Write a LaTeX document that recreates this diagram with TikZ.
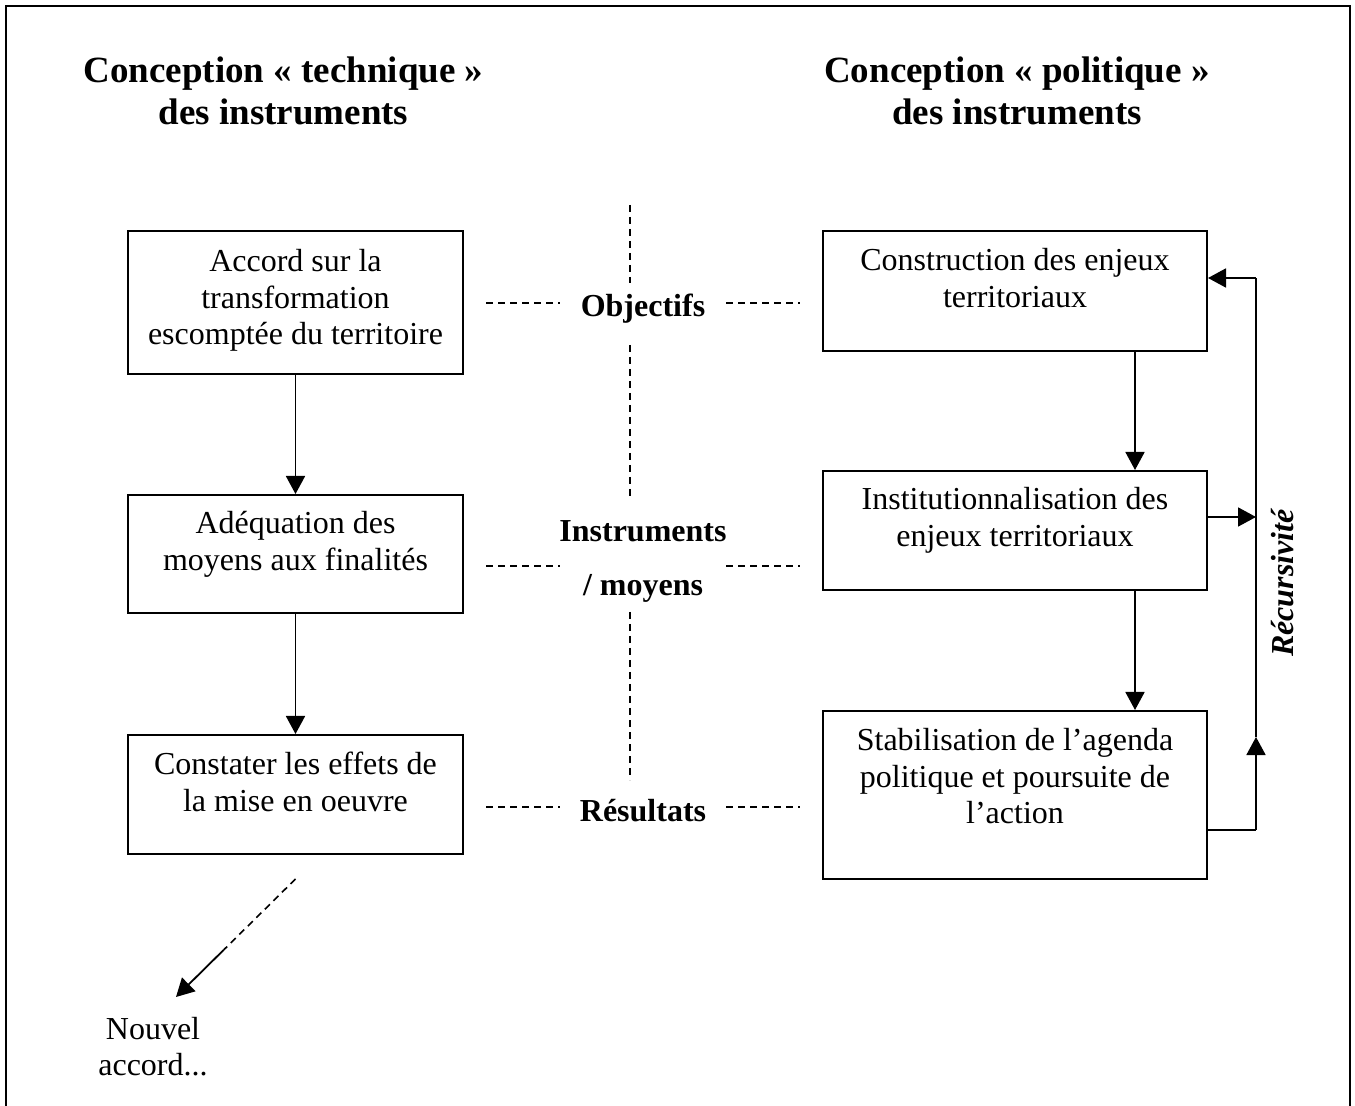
\documentclass[tikz,border=0pt]{standalone}
\usepackage{fontspec}
\setmainfont{Liberation Serif}
\usetikzlibrary{arrows.meta}
\begin{document}
\begin{tikzpicture}[x=0.5pt,y=-0.5pt,
  box/.style={draw, line width=1pt, inner sep=0pt, anchor=north west, minimum width=#1},
  box/.default=167.5pt,
  btext/.style={inner sep=0pt, anchor=north, align=center, font=\fontsize{16}{18.25}\selectfont},
  ttext/.style={inner sep=0pt, anchor=north, align=center, font=\fontsize{18.5}{21}\selectfont\bfseries},
  mtext/.style={inner sep=0pt, anchor=base, font=\fontsize{16}{18.25}\selectfont\bfseries},
  arr/.style={line width=0.9pt, -{Triangle[length=9pt,width=9.5pt]}},
  plain/.style={line width=0.9pt},
  sep/.style={line width=0.8pt, dash pattern=on 3.5pt off 2.5pt}]
\useasboundingbox (0,0) rectangle (1355,1106);
% outer frame (bottom edge lies outside the picture)
\draw[line width=1pt] (6,1106) -- (6,6) -- (1350,6) -- (1350,1106);

% titles
\node[ttext] (tl) at (283.5,53) {\strut Conception « technique »\\des instruments};
\node[ttext] (tr) at (1017,53) {\strut Conception « politique »\\des instruments};

% left boxes
\node[box, minimum height=71.5pt] (L1) at (127,230) {};
\node[box, minimum height=59pt] (L2) at (127,494) {};
\node[box, minimum height=59.5pt] (L3) at (127,734) {};
\node[btext] (L1t) at ([yshift=-8pt]L1.north) {\strut Accord sur la\\transformation\\escomptée du territoire};
\node[btext] (L2t) at ([yshift=-7pt]L2.north) {\strut Adéquation des\\moyens aux finalités};
\node[btext] (L3t) at ([yshift=-7.5pt]L3.north) {\strut Constater les effets de\\la mise en oeuvre};

% right boxes
\node[box=192pt, minimum height=60pt] (R1) at (822,230) {};
\node[box=192pt, minimum height=59.5pt] (R2) at (822,470) {};
\node[box=192pt, minimum height=84pt] (R3) at (822,710) {};
\node[btext] (R1t) at ([yshift=-7.5pt]R1.north) {\strut Construction des enjeux\\territoriaux};
\node[btext] (R2t) at ([yshift=-7pt]R2.north) {\strut Institutionnalisation des\\enjeux territoriaux};
\node[btext] (R3t) at ([yshift=-7.5pt]R3.north) {\strut Stabilisation de l’agenda\\politique et poursuite de\\l’action};

% middle labels
\node[mtext] (obj) at (643,317) {Objectifs};
\node[mtext] (ins) at (643,542) {Instruments};
\node[mtext] (moy) at (643,596) {/ moyens};
\node[mtext] (res) at (643,821) {Résultats};

% separators
\draw[sep] (630,205) -- (630,283);
\draw[sep] (630,345) -- (630,500);
\draw[sep] (630,612) -- (630,780);
\draw[sep] (486,303) -- (560,303);
\draw[sep] (726,303) -- (800,303);
\draw[sep] (486,566) -- (560,566);
\draw[sep] (726,566) -- (800,566);
\draw[sep] (486,807) -- (560,807);
\draw[sep] (726,807) -- (800,807);

% left arrows
\draw[arr] (L1.south) -- (L2.north);
\draw[arr] (L2.south) -- (L3.north);

% right arrows
\draw[arr] ([xshift=-36.5pt]R1.south east) -- ([xshift=-36.5pt]R2.north east);
\draw[arr] ([xshift=-36.5pt]R2.south east) -- ([xshift=-36.5pt]R3.north east);

% recursion loop
\coordinate (r1in) at ([yshift=-24pt]R1.north east);
\coordinate (r2out) at ([yshift=-23.5pt]R2.north east);
\coordinate (r3out) at ([yshift=-60pt]R3.north east);
\coordinate (loopx) at ([xshift=24pt]R1.north east);
\path (r3out -| loopx) ++(0,-93) coordinate (mid);
\draw[plain] (r3out) -- (r3out -| loopx);
\draw[arr] (r3out -| loopx) -- (mid);
\draw[plain] (mid) -- (r1in -| loopx);
\draw[arr] (r1in -| loopx) -- (r1in);
\draw[arr] (r2out) -- (r2out -| loopx);
\node[inner sep=0pt, anchor=base, rotate=90, font=\fontsize{16}{18.25}\selectfont\bfseries\itshape] (rec) at (1293,583) {Récursivité};

% new agreement
\node[btext] (nv) at (153,1013.5) {\strut Nouvel\\accord...};
\coordinate (dstart) at ([yshift=-12pt]L3.south);
\coordinate (dend) at ([xshift=11.5pt,yshift=8.25pt]nv.north);
\path (dstart) -- (dend) coordinate[pos=0.6] (dmid);
\draw[sep] (dstart) -- (dmid);
\draw[arr] (dmid) -- (dend);
\end{tikzpicture}
\end{document}
